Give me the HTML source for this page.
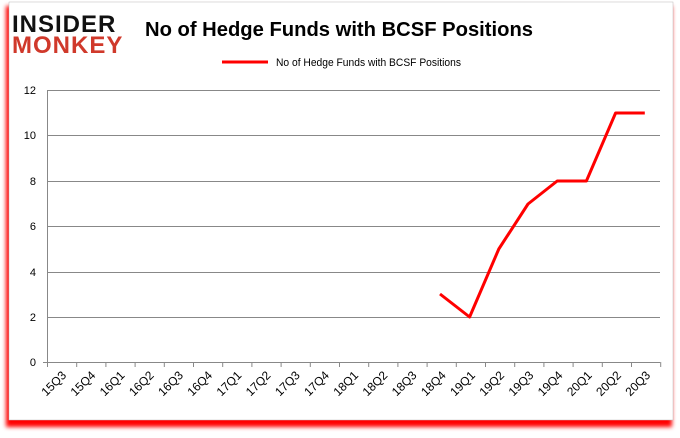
<!DOCTYPE html>
<html><head><style>
body{margin:0;background:#fff;width:680px;height:433px;overflow:hidden;font-family:"Liberation Sans",sans-serif}
</style></head><body>
<svg width="680" height="433" xmlns="http://www.w3.org/2000/svg">
<defs><filter id="s" x="-5%" y="-5%" width="110%" height="110%"><feGaussianBlur stdDeviation="2"/></filter></defs>
<rect x="6" y="6" width="666" height="421" fill="#f00" filter="url(#s)"/>
<rect x="9" y="2" width="664" height="418" fill="#fff" stroke="#bbb" stroke-width="0.5"/>
<text x="12" y="32" font-family="Liberation Sans" font-weight="900" font-size="24" fill="#111" letter-spacing="1">INSIDER</text>
<text x="12" y="53" font-family="Liberation Sans" font-weight="900" font-size="24" fill="#d0392b" letter-spacing="1">MONKEY</text>
<text x="145" y="36" font-size="20" font-weight="bold" fill="#000" textLength="388" lengthAdjust="spacingAndGlyphs">No of Hedge Funds with BCSF Positions</text>
<line x1="222" y1="62" x2="268" y2="62" stroke="#f00" stroke-width="3"/>
<text x="276" y="66" font-size="11" fill="#000" textLength="185" lengthAdjust="spacingAndGlyphs">No of Hedge Funds with BCSF Positions</text>
<g stroke="#888" stroke-width="1">
<line x1="47" y1="90.5" x2="660" y2="90.5"/><line x1="47" y1="135.5" x2="660" y2="135.5"/>
<line x1="47" y1="181.5" x2="660" y2="181.5"/><line x1="47" y1="226.5" x2="660" y2="226.5"/>
<line x1="47" y1="272.5" x2="660" y2="272.5"/><line x1="47" y1="317.5" x2="660" y2="317.5"/>
<line x1="47" y1="362.5" x2="660" y2="362.5"/><line x1="47.5" y1="90" x2="47.5" y2="362"/>
<line x1="43" y1="362.5" x2="47" y2="362.5"/>
</g>
<g font-size="11" text-anchor="end" fill="#000">
<text x="36" y="94">12</text><text x="36" y="139">10</text><text x="36" y="185">8</text><text x="36" y="230">6</text><text x="36" y="276">4</text><text x="36" y="321">2</text><text x="36" y="366">0</text>
</g>
<g id="ticks" stroke="#888"></g>
<g id="lbl" font-size="12" text-anchor="end" fill="#000"></g>
<polyline fill="none" stroke="#f00" stroke-width="3" stroke-linejoin="round" points="440,294 469.6,317 498.8,249 528,204 557.2,181 586.4,181 615.6,113 644.8,113"/>
<script>
var L="15Q3 15Q4 16Q1 16Q2 16Q3 16Q4 17Q1 17Q2 17Q3 17Q4 18Q1 18Q2 18Q3 18Q4 19Q1 19Q2 19Q3 19Q4 20Q1 20Q2 20Q3".split(" ");
var t=document.getElementById("ticks"),g=document.getElementById("lbl"),ns="http://www.w3.org/2000/svg";
for(var i=0;i<=21;i++){var x=47.5+i*29.2;var l=document.createElementNS(ns,"line");l.setAttribute("x1",x);l.setAttribute("x2",x);l.setAttribute("y1",362);l.setAttribute("y2",367);t.appendChild(l);}
for(var i=0;i<21;i++){var x=67+i*29.2,y=376;var e=document.createElementNS(ns,"text");e.setAttribute("x",x);e.setAttribute("y",y);e.setAttribute("transform","rotate(-45 "+x+" "+y+")");e.textContent=L[i];g.appendChild(e);}
</script>
</svg>
</body></html>
